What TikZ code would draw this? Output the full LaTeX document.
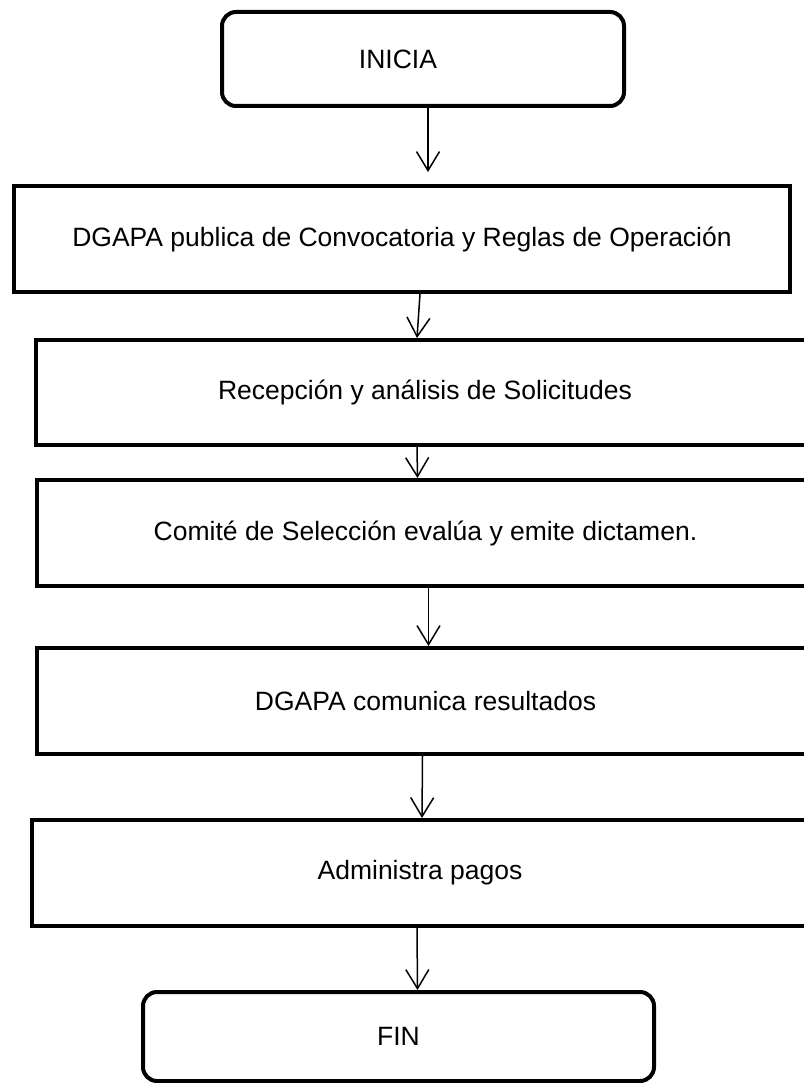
\documentclass[tikz,border=0pt]{standalone}
\usepackage{fontspec}
\setmainfont{Liberation Sans}
\usetikzlibrary{arrows.meta}
\begin{document}
\begin{tikzpicture}[x=1pt,y=-1pt,
	box/.style={draw,line width=4pt,minimum height=106pt,inner sep=0pt,font=\fontsize{26.5}{31}\selectfont},
	term/.style={box,rounded corners=14pt},
	flow/.style={-{Straight Barb[length=19pt,width=23pt,line width=1.5pt]},line width=1.5pt}]
		% page frame
		\useasboundingbox (0,0) rectangle (803,1083);
		
		% start and end
		\node[term,minimum width=402pt,minimum height=94pt] (inicia) at (423,59) {\hspace*{-50pt}INICIA};
		\node[term,minimum width=511pt,minimum height=89pt] (fin) at (398.5,1036.5) {FIN};
		
		% steps
		\node[box,minimum width=776pt] (publica) at (402,239) {DGAPA publica de Convocatoria y Reglas de Operación};
		\node[box,minimum width=778pt,minimum height=105pt] (recepcion) at (425,392.5) {Recepción y análisis de Solicitudes};
		\node[box,minimum width=777pt] (comite) at (425.5,533) {Comité de Selección evalúa y emite dictamen.};
		\node[box,minimum width=777pt] (comunica) at (425.5,701) {DGAPA comunica resultados};
		\node[box,minimum width=776pt] (pagos) at (420,873) {Administra pagos};
		
		% arrows
		\draw[flow,shorten >=12pt] ([xshift=5pt]inicia.south) -- ([xshift=26pt]publica.north);
		\foreach \a/\b/\sa/\sb in {publica/recepcion/18/-8,recepcion/comite/-8/-8,comite/comunica/3/3,comunica/pagos/-3/2,pagos/fin/-3/19}{
			\draw[flow] ([xshift=\sa pt]\a.south) -- ([xshift=\sb pt]\b.north);
		}
	\end{tikzpicture}
\end{document}
